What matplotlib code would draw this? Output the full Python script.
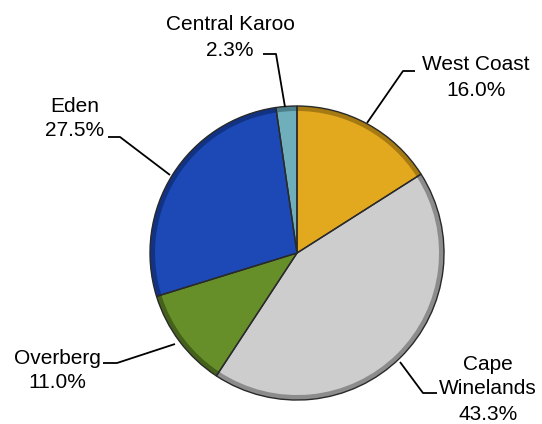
import matplotlib
matplotlib.use("Agg")
import matplotlib.pyplot as plt

regions = ["West Coast", "Cape Winelands", "Overberg", "Eden", "Central Karoo"]
shares = [16.0, 43.3, 11.0, 27.5, 2.3]
label_lines = [["West Coast", "16.0%"], ["Cape", "Winelands", "43.3%"],
               ["Overberg", "11.0%"], ["Eden", "27.5%"], ["Central Karoo", "2.3%"]]
colors = ["#E3A91E", "#CDCDCD", "#668F2A", "#1C49B5", "#6FAEBB"]
rim_colors = ["#A67A12", "#8C8C8C", "#45621C", "#123284", "#4A7F8A"]

W, H = 542, 424
fig = plt.figure(figsize=(W / 100, H / 100), dpi=100)
ax = fig.add_axes([0, 0, 1, 1])

def Y(y):
    return H - y

cx, cy, R = 297, Y(253), 147
explode_px = [0, 6, 0, 0, 0]
expl = [e / R for e in explode_px]

# face
ax.pie(shares, colors=colors, startangle=90, counterclock=False,
       center=(cx, cy), radius=R, explode=expl,
       wedgeprops=dict(linewidth=0), frame=True)
# darker bevel rim
ax.pie(shares, colors=rim_colors, startangle=90, counterclock=False,
       center=(cx, cy), radius=R, explode=expl,
       wedgeprops=dict(linewidth=0, width=5), frame=True)
# outline
ax.pie(shares, colors=["none"] * len(shares), startangle=90, counterclock=False,
       center=(cx, cy), radius=R, explode=expl,
       wedgeprops=dict(linewidth=1.0, edgecolor="#2a2a2a", fill=False), frame=True)

ax.set_xlim(0, W)
ax.set_ylim(0, H)
ax.set_aspect("equal")
ax.axis("off")

font = dict(family=["Liberation Sans", "DejaVu Sans"], fontsize=15, color="black")

label_pos = {
    "West Coast": (476, 65, 25),
    "Cape Winelands": (488, 364, 25),
    "Overberg": (57, 359, 24),
    "Eden": (75, 107, 23),
    "Central Karoo": (230, 25, 25),
}
leaders = {
    "West Coast": [(415, 71), (403, 71), (367, 123)],
    "Cape Winelands": [(437, 393), (423, 393), (400, 362)],
    "Overberg": [(103, 363), (117, 363), (175, 344)],
    "Eden": [(108, 137), (120, 137), (170, 175)],
    "Central Karoo": [(263, 54), (276, 54), (285, 107)],
}

for name, lines in zip(regions, label_lines):
    x, y0, step = label_pos[name]
    for i, ln in enumerate(lines):
        ax.text(x, Y(y0 + i * step), ln, ha="center", va="center", **font)
    pts = leaders[name]
    ax.plot([p[0] for p in pts], [Y(p[1]) for p in pts], color="black", lw=1.3,
            solid_capstyle="butt")

fig.savefig("out.png", dpi=100)
